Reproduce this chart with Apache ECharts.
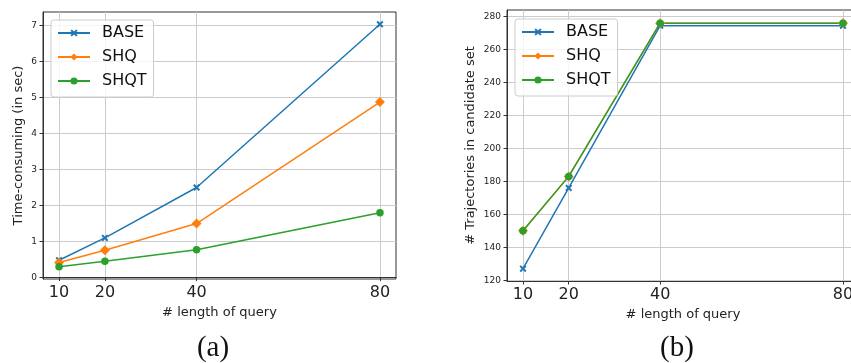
<!DOCTYPE html>
<html>
<head>
<meta charset="utf-8">
<script src="https://cdn.jsdelivr.net/npm/echarts@6/dist/echarts.min.js"></script>
<style>
  html, body { margin: 0; padding: 0; background: #fff; overflow: hidden; }
  #main { width: 851px; height: 363px; }
</style>
</head>
<body>
<div id="main"></div>
<script>
// query lengths (x)
var queryLen = [10, 20, 40, 80];

// (a) time-consuming, in sec
var timeBase = [0.48, 1.1, 2.5, 7.03];
var timeShq = [0.42, 0.76, 1.5, 4.87];
var timeShqt = [0.3, 0.45, 0.77, 1.8];

// (b) trajectories in candidate set
var candBase = [127, 176, 274.5, 274.5];
var candShq = [150, 183, 276, 276];
var candShqt = [150, 183, 276, 276];

// tick labels
var timeTicks = [0, 1, 2, 3, 4, 5, 6, 7];
var candTicks = [120, 140, 160, 180, 200, 220, 240, 260, 280];

var names = ['BASE', 'SHQ', 'SHQT'];
var colors = ['#1f77b4', '#ff7f0e', '#2ca02c'];
var xMark = 'path://M2,0 L5,3 L8,0 L10,2 L7,5 L10,8 L8,10 L5,7 L2,10 L0,8 L3,5 L0,2 Z';
var symbols = [xMark, 'diamond', 'circle'];
var symbolSizes = [7, 10, 7.5];

function pairs(ys) {
    return queryLen.map(function (x, i) { return [x, ys[i]]; });
}

function xAxisFor(idx) {
    return {
        type: 'value', gridIndex: idx, min: 6.5, max: 83.5,
        name: '# length of query', nameLocation: 'middle', nameGap: 25,
        nameTextStyle: { fontFamily: 'DejaVu Sans', fontSize: 13, color: '#222' },
        axisLine: { lineStyle: { color: '#333' } },
        axisTick: { show: true, length: 3.5, customValues: queryLen, lineStyle: { color: '#333' } },
        axisLabel: { customValues: queryLen, fontFamily: 'DejaVu Sans', fontSize: 16, color: '#222', margin: 6 },
        splitLine: { show: true, lineStyle: { color: '#cccccc', width: 1 } }
    };
}

function yAxisFor(idx, min, max, ticks, label, gap) {
    return {
        type: 'value', gridIndex: idx, min: min, max: max,
        name: label, nameLocation: 'middle', nameGap: gap,
        nameTextStyle: { fontFamily: 'DejaVu Sans', fontSize: 13, color: '#222' },
        axisLine: { show: true, lineStyle: { color: '#333' } },
        axisTick: { show: true, length: 3.5, customValues: ticks, lineStyle: { color: '#333' } },
        axisLabel: { customValues: ticks, fontFamily: 'DejaVu Sans', fontSize: 9, color: '#222', margin: 6 },
        splitLine: { show: true, lineStyle: { color: '#cccccc', width: 1 } }
    };
}

function legendFor(left, top) {
    return {
        orient: 'vertical', left: left, top: top,
        data: names,
        itemWidth: 32, itemHeight: 9, itemGap: 8,
        padding: [5, 7, 8, 6],
        backgroundColor: 'rgba(255,255,255,0.8)',
        borderColor: '#cccccc', borderWidth: 1, borderRadius: 3,
        textStyle: { fontFamily: 'DejaVu Sans', fontSize: 16, color: '#111', padding: [0, 0, 0, 7] }
    };
}

var series = [];
[[timeBase, timeShq, timeShqt], [candBase, candShq, candShqt]].forEach(function (group, g) {
    group.forEach(function (ys, i) {
        series.push({
            name: names[i], type: 'line',
            xAxisIndex: g, yAxisIndex: g,
            data: pairs(ys),
            symbol: symbols[i], symbolSize: symbolSizes[i],
            showAllSymbol: true,
            itemStyle: { color: colors[i] },
            lineStyle: { color: colors[i], width: 1.5 },
            emphasis: { disabled: true }
        });
    });
});

var option = {
    animation: false,
    grid: [
        { left: 43, top: 12, width: 353, height: 267, outerBoundsMode: 'none', show: true, borderColor: '#333', borderWidth: 1 },
        { left: 507, top: 10, width: 352, height: 271, outerBoundsMode: 'none', show: true, borderColor: '#333', borderWidth: 1 }
    ],
    legend: [legendFor(51, 20), legendFor(515, 19)],
    xAxis: [xAxisFor(0), xAxisFor(1)],
    yAxis: [
        yAxisFor(0, -0.04, 7.37, timeTicks, 'Time-consuming (in sec)', 18),
        yAxisFor(1, 119.5, 284, candTicks, '# Trajectories in candidate set', 30)
    ],
    graphic: [
        { type: 'text', x: 213, y: 348, style: { text: '(a)', fontFamily: 'Liberation Serif', fontSize: 29, fill: '#111', textAlign: 'center', textVerticalAlign: 'middle' } },
        { type: 'text', x: 677, y: 348, style: { text: '(b)', fontFamily: 'Liberation Serif', fontSize: 29, fill: '#111', textAlign: 'center', textVerticalAlign: 'middle' } }
    ],
    series: series
};

var myChart = echarts.init(document.getElementById('main'));
myChart.setOption(option);
</script>
</body>
</html>
